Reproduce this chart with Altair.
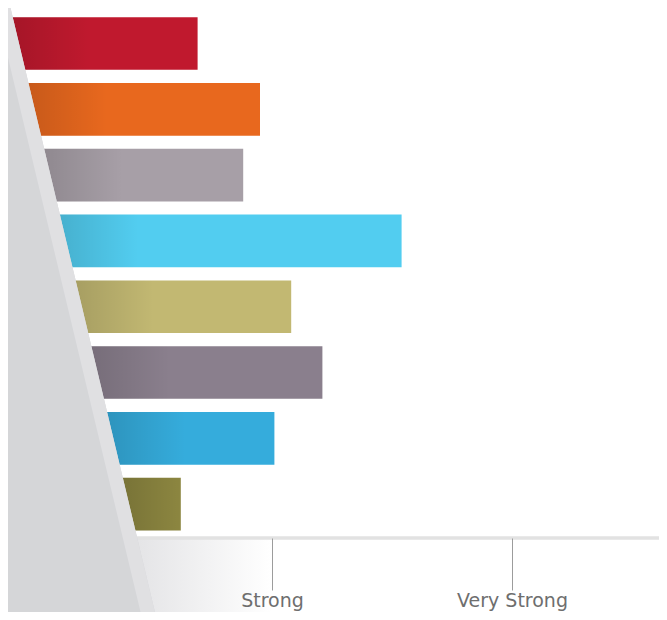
import altair as alt
import pandas as pd

# ---- data ----
categories = ["Item 1", "Item 2", "Item 3", "Item 4", "Item 5", "Item 6", "Item 7", "Item 8"]
strength = [1.69, 1.95, 1.88, 2.54, 2.08, 2.21, 2.01, 1.62]
bar_colors = ["#c0192e", "#e8681e", "#a79fa7", "#52cdf0", "#c2b872", "#8a7f8d", "#35acdc", "#8c8640"]
tick_values = [2, 3]
tick_labels = ["Strong", "Very Strong"]

# decorative grey wedge (rows, strength units)
wedge_rows = [-0.54, 8.76]
wedge_edge = [0.9105, 1.52]
shade_rows = [7.515, 8.76]
shade_edge = [1.43, 1.51]
shade_end = [2.0, 2.0]

bars = pd.DataFrame({
    "category": categories,
    "row": list(range(len(categories))),
    "strength": strength,
    "color": bar_colors,
})
bars["y0"] = bars["row"] - 0.4
bars["y1"] = bars["row"] + 0.4
slope = (wedge_edge[1] - wedge_edge[0]) / (wedge_rows[1] - wedge_rows[0])
bars["left"] = wedge_edge[0] + (bars["row"] - wedge_rows[0]) * slope - 0.03
bars["shadow_end"] = [min(l + 0.33, s) for l, s in zip(bars["left"], bars["strength"])]

wedge = pd.DataFrame({"row": wedge_rows, "edge": wedge_edge})
band = pd.DataFrame({"row": wedge_rows, "edge": wedge_edge,
                     "inner": [e - 0.06 for e in wedge_edge]})
shade = pd.DataFrame({"row": shade_rows, "edge": shade_edge, "end": shade_end})

xs = alt.Scale(domain=[0.9, 3.6125], nice=False, zero=False)
ys = alt.Scale(domain=[-0.54, 7.515], nice=False, zero=False, reverse=True)

label_expr = " : ".join(
    f"datum.value == {v} ? '{t}'" for v, t in zip(tick_values, tick_labels)
) + " : ''"

bar_layer = alt.Chart(bars).mark_bar().encode(
    x=alt.X("strength:Q", scale=xs, title=None,
            axis=alt.Axis(values=tick_values, labelExpr=label_expr, grid=False,
                          domain=False, zindex=1,
                          tickColor="#9c9c9c", tickWidth=1, tickSize=52,
                          labelPadding=1, labelFont="DejaVu Sans", labelFontSize=19,
                          labelColor="#6e6e6e")),
    x2=alt.value(0),
    y=alt.Y("y0:Q", scale=ys, axis=None),
    y2="y1:Q",
    color=alt.Color("color:N", scale=None),
)

shadow_layer = alt.Chart(bars).mark_bar(
    color=alt.Gradient(gradient="linear", x1=0, x2=1, y1=0, y2=0,
                       stops=[alt.GradientStop(color="rgba(0,0,0,0.14)", offset=0),
                              alt.GradientStop(color="rgba(0,0,0,0)", offset=1)]),
).encode(
    x=alt.X("left:Q", scale=xs, title=None),
    x2="shadow_end:Q",
    y=alt.Y("y0:Q", scale=ys, axis=None),
    y2="y1:Q",
)

axis_line = alt.Chart(shade).mark_rule(color="#e2e2e2", strokeWidth=3).encode(
    x=alt.value(0), x2=alt.value(651), y=alt.value(530),
)

shade_layer = alt.Chart(shade).mark_area(
    orient="horizontal",
    color=alt.Gradient(gradient="linear", x1=0, x2=1, y1=0, y2=0,
                       stops=[alt.GradientStop(color="#e4e4e6", offset=0),
                              alt.GradientStop(color="#ffffff", offset=1)]),
).encode(
    y=alt.Y("row:Q", scale=ys, axis=None),
    x=alt.X("edge:Q", scale=xs, title=None),
    x2="end:Q",
)

wedge_layer = alt.Chart(wedge).mark_area(orient="horizontal", color="#d5d6d8").encode(
    y=alt.Y("row:Q", scale=ys, axis=None),
    x=alt.X("edge:Q", scale=xs, title=None),
    x2=alt.value(0),
)

band_layer = alt.Chart(band).mark_area(orient="horizontal", color="#e0e0e2").encode(
    y=alt.Y("row:Q", scale=ys, axis=None),
    x=alt.X("edge:Q", scale=xs, title=None),
    x2="inner:Q",
)

chart = alt.layer(bar_layer, shadow_layer, shade_layer, axis_line,
                  wedge_layer, band_layer).properties(
    width=651, height=530,
    autosize=alt.AutoSizeParams(type="none"),
    padding={"left": 0, "top": 0, "right": 0, "bottom": 74},
).configure_view(strokeWidth=0)

chart.save("out.html", embed_options={"renderer": "svg", "actions": False})
